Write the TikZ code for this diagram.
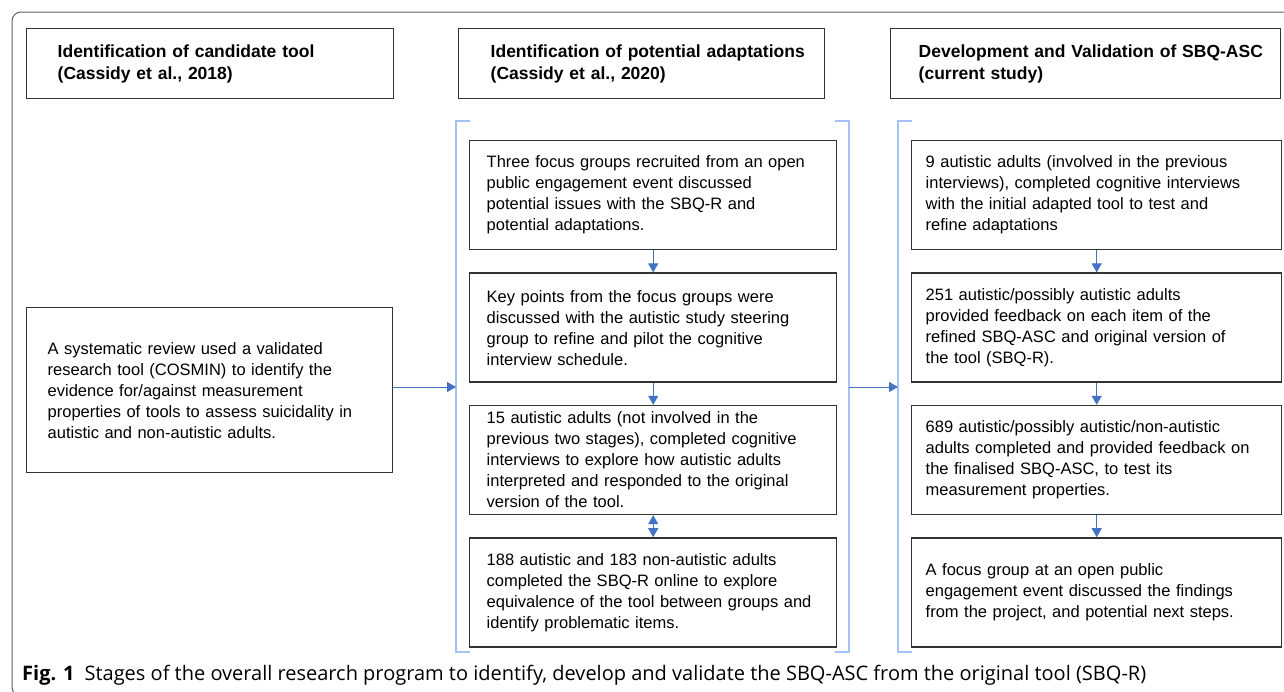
\documentclass[tikz,border=0pt]{standalone}
\usepackage{fontspec}
\setmainfont{Liberation Sans}
\newfontfamily\capfont{Open Sans}
\usetikzlibrary{arrows.meta, positioning}
\definecolor{arrowblue}{HTML}{4472C4}
\definecolor{brackblue}{HTML}{A4C2F4}
\definecolor{boxline}{HTML}{333333}
\definecolor{framegray}{HTML}{606060}

\begin{document}
\begin{tikzpicture}[x=1pt, y=-1pt, node distance=22pt]
	\tikzstyle{block} = [rectangle, draw=boxline, line width=1.4pt, align=left, font=\fontsize{16.5}{21}\selectfont, minimum height=109pt]
	\tikzstyle{midblock} = [block, text width=333pt, inner xsep=17pt]
	\tikzstyle{rgtblock} = [block, text width=342pt, inner xsep=14pt]
	\tikzstyle{head} = [rectangle, draw=boxline, line width=1.4pt, align=left, font=\fontsize{17.5}{22}\selectfont\bfseries, minimum height=70pt, anchor=north west]
	\tikzstyle{line} = [draw=arrowblue, line width=1pt, -{Triangle[width=10pt,length=9pt]}]
	\tikzstyle{bracket} = [draw=brackblue, line width=1.2pt]

	\useasboundingbox (0,0) rectangle (1284,691);
	\clip (0,0) rectangle (1284,691);
	\draw [framegray, line width=1pt, rounded corners=9pt] (1300,12) -- (12,12) -- (12,696) -- (60,696);

	% stage headings
	\node [head, text width=305pt, inner xsep=31pt] (headA) at (26,28) {Identification of candidate tool\\(Cassidy et al., 2018)};
	\node [head, text width=302pt, inner xsep=32pt] (headB) at (458,28) {\mbox{Identification of potential adaptations}\\(Cassidy et al., 2020)};
	\node [head, text width=334pt, inner xsep=28pt] (headC) at (890,28) {\mbox{Development and Validation of SBQ-ASC}\\(current study)};

	% stage 1
	\node [block, text width=324pt, inner xsep=21pt, minimum height=165pt, anchor=north west] (review) at (26,307) {A systematic review used a validated\\research tool (COSMIN) to identify the\\evidence for/against measurement\\properties of tools to assess suicidality in\\autistic and non-autistic adults.};

	% stage 2
	\node [midblock, anchor=north west] (focus) at (469,140) {Three focus groups recruited from an open\\public engagement event discussed\\potential issues with the SBQ-R and\\potential adaptations.};
	\node [midblock, below=22pt of focus] (steer) {Key points from the focus groups were\\discussed with the autistic study steering\\group to refine and pilot the cognitive\\interview schedule.};
	\node [midblock, below=22pt of steer] (cogint) {15 autistic adults (not involved in the\\previous two stages), completed cognitive\\interviews to explore how autistic adults\\interpreted and responded to the original\\version of the tool.};
	\node [midblock, below=22pt of cogint] (online) {188 autistic and 183 non-autistic adults\\completed the SBQ-R online to explore\\equivalence of the tool between groups and\\identify problematic items.};

	% stage 3
	\node [rgtblock, anchor=north west] (refine) at (911,140) {9 autistic adults (involved in the previous\\interviews), completed cognitive interviews\\with the initial adapted tool to test and\\refine adaptations};
	\node [rgtblock, below=22pt of refine] (feedback) {251 autistic/possibly autistic adults\\provided feedback on each item of the\\refined SBQ-ASC and original version of\\the tool (SBQ-R).};
	\node [rgtblock, below=22pt of feedback] (validate) {689 autistic/possibly autistic/non-autistic\\adults completed and provided feedback on\\the finalised SBQ-ASC, to test its\\measurement properties.};
	\node [rgtblock, below=22pt of validate] (nextsteps) {A focus group at an open public\\engagement event discussed the findings\\from the project, and potential next steps.};

	% brackets
	\draw [bracket] (470,121) -- (456,121) -- (456,652) -- (470,652);
	\draw [bracket] (835,121) -- (849,121) -- (849,652) -- (835,652);
	\draw [bracket] (912,121) -- (898,121) -- (898,652) -- (912,652);
	\coordinate (midin) at (456,387);
	\coordinate (midout) at (849,387);
	\coordinate (rgtin) at (898,387);

	\path [line] (review.east |- midin) -- (midin);
	\path [line] (midout) -- (rgtin);
	\path [line] (focus) -- (steer);
	\path [line] (steer) -- (cogint);
	\path [line, {Triangle[width=10pt,length=9pt]}-{Triangle[width=10pt,length=9pt]}] (cogint) -- (online);
	\path [line] (refine) -- (feedback);
	\path [line] (feedback) -- (validate);
	\path [line] (validate) -- (nextsteps);

	\node [anchor=base west, inner sep=0pt, font=\capfont\fontsize{20}{24}\selectfont] (caption) at (22,680) {\textbf{Fig. 1}\hspace{10pt}Stages of the overall research program to identify, develop and validate the SBQ-ASC from the original tool (SBQ-R)};
\end{tikzpicture}
\end{document}
